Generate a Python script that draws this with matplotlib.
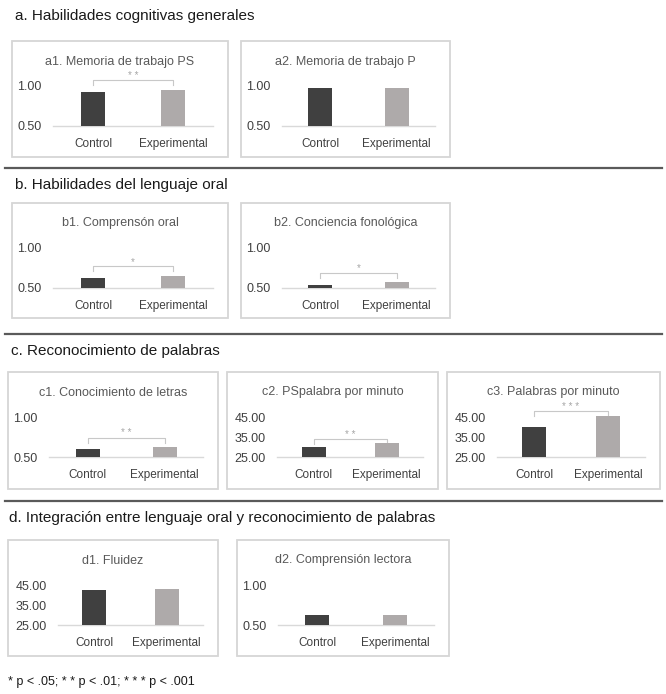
import matplotlib.pyplot as plt
from matplotlib.patches import Rectangle
from matplotlib.lines import Line2D

plt.rcParams['font.family'] = ['Liberation Sans', 'DejaVu Sans']

# donnees
secciones = ["a. Habilidades cognitivas generales",
             "b. Habilidades del lenguaje oral",
             "c. Reconocimiento de palabras",
             "d. Integración entre lenguaje oral y reconocimiento de palabras"]
titulos = ["a1. Memoria de trabajo PS", "a2. Memoria de trabajo P",
           "b1. Comprensón oral", "b2. Conciencia fonológica",
           "c1. Conocimiento de letras", "c2. PSpalabra por minuto", "c3. Palabras por minuto",
           "d1. Fluidez", "d2. Comprensión lectora"]
grupos = ["Control", "Experimental"]
control = [0.93, 0.98, 0.62, 0.54, 0.60, 29.8, 40.0, 42.5, 0.62]
experimental = [0.95, 0.98, 0.65, 0.58, 0.63, 32.0, 45.5, 43.2, 0.62]
escala = ["r", "r", "r", "r", "r", "m", "m", "m", "r"]   # r: 0.50-1.00, m: 25-45
marcas_r = [0.50, 1.00]
marcas_m = [25.0, 35.0, 45.0]
signif = ["**", "", "*", "*", "**", "**", "***", "", ""]
corchete = [1.075, None, 0.775, 0.69, 0.74, 34.0, 48.0, None, None]
nota = "* p < .05; * * p < .01; * * * p < .001"

# mise en page (pixels)
W, H = 666, 694
cajas = [(12, 41, 228, 157), (241, 41, 450, 157),
         (12, 203, 228, 318), (241, 203, 450, 318),
         (8, 372, 218, 489), (227, 372, 438, 489), (447, 372, 660, 489),
         (8, 540, 218, 656), (237, 540, 449, 656)]
x_secciones = [15, 15, 11, 9]
y_secciones = [16, 185, 351, 518]
y_lineas = [168, 334, 501]

GRIS_TXT = "#595959"

fig = plt.figure(figsize=(W / 100, H / 100), dpi=100)


def fx(px):
    return px / W


def fy(py):
    return 1 - py / H


for texto, x, y in zip(secciones, x_secciones, y_secciones):
    fig.text(fx(x), fy(y), texto, fontsize=11, color="#1a1a1a", va="center", ha="left")

for y in y_lineas:
    fig.add_artist(Line2D([fx(5), fx(662)], [fy(y), fy(y)], color="#5a5a5a", lw=1.6))

for i, (x0, y0, x1, y1) in enumerate(cajas):
    fig.add_artist(Rectangle((fx(x0), fy(y1)), fx(x1 - x0), (y1 - y0) / H,
                             fill=False, edgecolor="#d6d6d6", lw=1.3))
    fig.text(fx((x0 + x1) / 2), fy(y0 + 20.5), titulos[i], fontsize=9,
             color=GRIS_TXT, ha="center", va="center")

    izq = x0 + (41 if escala[i] == "r" else 50)
    der = x1 - 15
    base = y0 + 85
    ax = fig.add_axes([fx(izq), fy(base), fx(der - izq), 40 / H])
    ax.patch.set_alpha(0)

    if escala[i] == "r":
        marcas = marcas_r
    else:
        marcas = marcas_m
    ymin, ymax = marcas[0], marcas[-1]

    ancho = 24 / ((der - izq) / 2)
    ax.bar([0, 1], [control[i] - ymin, experimental[i] - ymin], bottom=ymin, width=ancho,
           color=["#404040", "#aeaaaa"], clip_on=False, zorder=3)
    ax.set_xlim(-0.5, 1.5)
    ax.set_ylim(ymin, ymax)
    ax.set_yticks(marcas)
    ax.set_yticklabels(["%.2f" % m for m in marcas])
    ax.set_xticks([0, 1])
    ax.set_xticklabels(grupos)
    ax.tick_params(axis="y", length=0, pad=8, labelsize=9, labelcolor="#404040")
    ax.tick_params(axis="x", length=0, pad=8.5, labelsize=8.5, labelcolor="#404040")
    for lado in ["top", "right", "left"]:
        ax.spines[lado].set_visible(False)
    ax.spines["bottom"].set_color("#d9d9d9")
    ax.spines["bottom"].set_linewidth(1.0)
    ax.spines["bottom"].set_zorder(2)

    if signif[i]:
        yc = corchete[i]
        caida = 5 / 40 * (ymax - ymin)
        ax.plot([0, 0, 1, 1], [yc - caida, yc, yc, yc - caida], color="#c8c8c8",
                lw=0.8, clip_on=False)
        ax.annotate(" ".join(signif[i]), (0.5, yc), xytext=(0, 1),
                    textcoords="offset points", ha="center", va="baseline",
                    fontsize=7, color="#a6a6a6", annotation_clip=False)

fig.text(fx(8), fy(682), nota, fontsize=9, color="#1a1a1a", va="center", ha="left")

fig.savefig("out.png", dpi=100)
